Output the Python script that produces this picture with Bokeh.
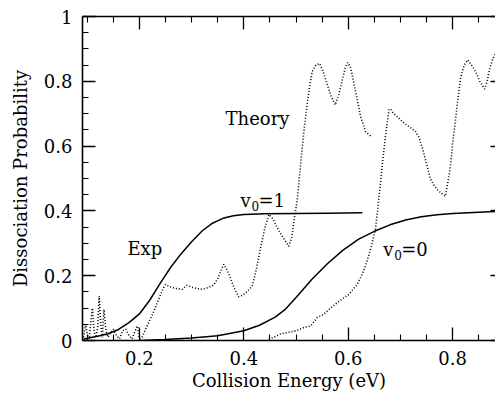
from bokeh.plotting import figure
from bokeh.models import Range1d, LinearAxis, Label, FixedTicker, CustomJSTickFormatter
from bokeh.embed import file_html
from bokeh.resources import INLINE

# ---- data ----
exp_v1_x = [0.093, 0.10, 0.12, 0.14, 0.16, 0.18, 0.20, 0.22, 0.24, 0.26, 0.28, 0.30,
            0.32, 0.34, 0.36, 0.38, 0.40, 0.44, 0.50, 0.56, 0.627]
exp_v1_y = [0.004, 0.007, 0.013, 0.021, 0.034, 0.055, 0.082, 0.125, 0.177, 0.226, 0.268, 0.305,
            0.338, 0.362, 0.377, 0.385, 0.389, 0.391, 0.392, 0.393, 0.394]

exp_v0_x = [0.20, 0.25, 0.30, 0.35, 0.40, 0.43, 0.46, 0.48, 0.50, 0.53, 0.56, 0.59, 0.62,
            0.65, 0.68, 0.71, 0.74, 0.77, 0.80, 0.84, 0.882]
exp_v0_y = [0.0, 0.003, 0.008, 0.015, 0.03, 0.047, 0.072, 0.097, 0.133, 0.188, 0.237, 0.279, 0.313,
            0.337, 0.357, 0.372, 0.382, 0.388, 0.392, 0.395, 0.398]

theory1_x = [0.093, 0.097, 0.100, 0.104, 0.107, 0.110, 0.113, 0.117, 0.120, 0.123, 0.126,
             0.129, 0.132, 0.136, 0.140, 0.145, 0.150, 0.156, 0.162, 0.168, 0.174, 0.180,
             0.186, 0.192, 0.196, 0.200, 0.205, 0.212, 0.219, 0.228, 0.235, 0.241, 0.246,
             0.250, 0.256, 0.263, 0.272, 0.282, 0.291, 0.300, 0.310, 0.320, 0.331, 0.342,
             0.350, 0.356, 0.3615, 0.367, 0.374, 0.382, 0.390, 0.398, 0.407, 0.416, 0.424,
             0.432, 0.440, 0.448, 0.456, 0.464, 0.475, 0.486, 0.492, 0.497, 0.502, 0.508,
             0.515, 0.521, 0.526, 0.531, 0.538, 0.545, 0.552, 0.560, 0.567, 0.575, 0.582,
             0.588, 0.594, 0.599, 0.605, 0.610, 0.617, 0.623, 0.633, 0.644]
theory1_y = [0.01, 0.05, 0.02, 0.005, 0.06, 0.10, 0.03, 0.01, 0.04, 0.137, 0.05,
             0.01, 0.096, 0.03, 0.01, 0.025, 0.035, 0.015, 0.005, 0.03, 0.035, 0.015,
             0.005, 0.03, 0.045, 0.005, 0.01, 0.035, 0.06, 0.091, 0.12, 0.143, 0.162,
             0.173, 0.168, 0.163, 0.16, 0.158, 0.17, 0.165, 0.16, 0.158, 0.163, 0.171,
             0.19, 0.215, 0.235, 0.22, 0.194, 0.16, 0.135, 0.14, 0.152, 0.168, 0.22,
             0.286, 0.345, 0.389, 0.375, 0.348, 0.318, 0.291, 0.32, 0.38, 0.43, 0.532,
             0.645, 0.727, 0.785, 0.83, 0.85, 0.855, 0.83, 0.789, 0.755, 0.727, 0.76,
             0.80, 0.84, 0.858, 0.84, 0.80, 0.745, 0.696, 0.645, 0.63]

theory2_x = [0.448, 0.46, 0.47, 0.485, 0.50, 0.515, 0.528, 0.54, 0.553, 0.566, 0.579, 0.59,
             0.601, 0.617, 0.627, 0.636, 0.644, 0.652, 0.657, 0.662, 0.666, 0.67, 0.674,
             0.678, 0.681, 0.687, 0.694, 0.70, 0.712, 0.72, 0.729, 0.736, 0.742, 0.75,
             0.757, 0.764, 0.770, 0.778, 0.786, 0.791, 0.796, 0.800, 0.805, 0.810, 0.815,
             0.822, 0.829, 0.836, 0.844, 0.852, 0.861, 0.866, 0.871, 0.877, 0.882]
theory2_y = [0.004, 0.012, 0.02, 0.025, 0.03, 0.04, 0.045, 0.07, 0.081, 0.10, 0.117, 0.13,
             0.142, 0.173, 0.205, 0.245, 0.29, 0.342, 0.415, 0.491, 0.555, 0.614, 0.665,
             0.712, 0.715, 0.70, 0.691, 0.681, 0.665, 0.656, 0.645, 0.625, 0.594, 0.545,
             0.50, 0.48, 0.466, 0.455, 0.445, 0.49, 0.542, 0.61, 0.676, 0.745, 0.809,
             0.85, 0.866, 0.85, 0.83, 0.80, 0.776, 0.80, 0.84, 0.87, 0.886]

x_major = [0.2, 0.4, 0.6, 0.8]
x_minor = [0.1, 0.15, 0.25, 0.3, 0.35, 0.45, 0.5, 0.55, 0.65, 0.7, 0.75, 0.85]
y_major = [0, 0.2, 0.4, 0.6, 0.8, 1.0]
y_minor = [0.05, 0.1, 0.15, 0.25, 0.3, 0.35, 0.45, 0.5, 0.55, 0.65, 0.7, 0.75, 0.85, 0.9, 0.95]

FONT = "DejaVu Serif"

p = figure(width=495, height=393, output_backend="svg", toolbar_location=None,
           x_range=Range1d(0.091, 0.882), y_range=Range1d(0, 1),
           min_border_left=82, min_border_right=0, min_border_top=16, min_border_bottom=50)
p.grid.visible = False
p.outline_line_color = None
p.background_fill_color = "white"
p.border_fill_color = "white"

fmt = CustomJSTickFormatter(code="var s = tick.toFixed(1); return s.replace(/\\.0$/, '');")
blank = CustomJSTickFormatter(code="return '';")

def style(ax, show_labels=True, line=True):
    ax.major_tick_in = 13
    ax.major_tick_out = 0
    ax.minor_tick_in = 6
    ax.minor_tick_out = 0
    ax.major_tick_line_width = 1.3
    ax.minor_tick_line_width = 1.1
    ax.major_tick_line_color = "black"
    ax.minor_tick_line_color = "black"
    ax.axis_line_width = 1.6 if line else 0
    ax.axis_line_color = "black" if line else None
    ax.major_label_text_font = FONT
    ax.major_label_text_font_size = "18px"
    ax.major_label_text_color = "black"
    ax.axis_label_text_font = FONT
    ax.axis_label_text_font_size = "18px"
    ax.axis_label_text_font_style = "normal"
    ax.axis_label_text_color = "black"
    ax.formatter = fmt if show_labels else blank

p.xaxis.ticker = FixedTicker(ticks=x_major, minor_ticks=x_minor)
p.yaxis.ticker = FixedTicker(ticks=y_major, minor_ticks=y_minor)
style(p.xaxis[0])
style(p.yaxis[0])
p.xaxis.axis_label = "Collision Energy (eV)"
p.yaxis.axis_label = "Dissociation Probability"
p.xaxis.major_label_standoff = 10
p.yaxis.major_label_standoff = 10
p.xaxis.axis_label_standoff = 2
p.yaxis.axis_label_standoff = 10

top = LinearAxis(ticker=FixedTicker(ticks=x_major, minor_ticks=x_minor))
style(top, show_labels=False)
top.major_label_standoff = 0
p.add_layout(top, "above")

right = LinearAxis(ticker=FixedTicker(ticks=y_major, minor_ticks=y_minor))
style(right, show_labels=False, line=False)
right.major_tick_in = 5
right.minor_tick_in = 0
right.major_label_standoff = 0
p.add_layout(right, "right")

p.line(exp_v1_x, exp_v1_y, line_color="black", line_width=1.5)
p.line(exp_v0_x, exp_v0_y, line_color="black", line_width=1.5)
p.line(theory1_x, theory1_y, line_color="black", line_width=1.6, line_dash="1 2")
p.line(theory2_x, theory2_y, line_color="black", line_width=1.6, line_dash="1 2")

def lab(x, y, t, size="18px", dx=0, dy=0):
    p.add_layout(Label(x=x, y=y, text=t, text_font=FONT, text_font_size=size,
                       x_offset=dx, y_offset=dy,
                       text_color="black", text_baseline="alphabetic", text_align="left"))

lab(0.365, 0.686, "Theory")
lab(0.177, 0.283, "Exp")
# v_0 = 1
lab(0.3935, 0.431, "v")
lab(0.3935, 0.431, "0", size="12px", dx=11, dy=-5)
lab(0.3935, 0.431, "=1", dx=18)
# v_0 = 0
lab(0.667, 0.28, "v")
lab(0.667, 0.28, "0", size="12px", dx=11, dy=-5)
lab(0.667, 0.28, "=0", dx=18)

open("out.html", "w").write(file_html(p, INLINE))
